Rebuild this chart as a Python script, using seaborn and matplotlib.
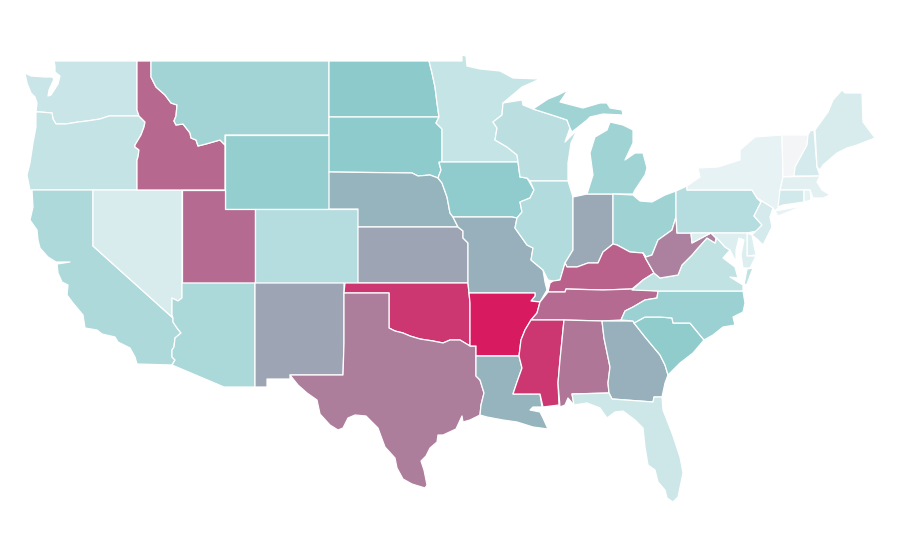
import matplotlib.pyplot as plt
import seaborn as sns
from matplotlib.collections import PolyCollection
from matplotlib.colors import ListedColormap, Normalize

sns.set_theme(style="white")

# state value (0 = palest, 100 = darkest red)
states = ['WA', 'OR', 'CA', 'NV', 'ID', 'MT', 'WY', 'UT', 'CO', 'AZ', 'NM', 'ND', 'SD',
          'NE', 'KS', 'OK', 'TX', 'MN', 'IA', 'MO', 'AR', 'LA', 'WI', 'IL', 'IN', 'MI_L',
          'MI_U', 'OH', 'KY', 'TN', 'MS', 'AL', 'GA', 'FL', 'SC', 'NC', 'VA', 'VA_E', 'WV', 'PA',
          'NY', 'VT', 'NH', 'ME', 'MA', 'CT', 'RI', 'NJ', 'DE', 'MD']
values = [20, 23, 33.5, 13, 78, 39, 46, 77, 30, 34.5, 61, 49.5, 48.5,
          56.5, 61, 92, 72, 22, 48, 57.5, 100, 56.5, 27, 32, 60, 40,
          40, 41, 80, 77, 92, 74, 57.5, 18, 47, 42.5, 24, 24, 71, 30,
          6.5, 0, 15, 13, 8.5, 16, 7, 14.5, 11, 11]
low_colors = ['#f3f5f6', '#e8f3f5']
mid_colors = ['#e8f3f5', '#8ccacb']
high_colors = ['#8ccacb', '#d81b60']

# state outlines, traced in map units (same size as the picture)
outlines = {
    'WA': [(54, 61), (137, 61), (137, 110), (139, 116), (109, 116), (100, 119), (87, 121), (78, 122), (66, 124),
           (56, 124), (53, 119), (52, 113), (40, 112), (36, 112), (37, 103), (35, 97), (31, 93), (27, 83), (25, 73),
           (31, 76), (45, 77), (52, 77), (54, 79), (49, 90), (48, 96), (51, 95), (58, 84), (60, 76), (55, 72),
           (55, 66)],
    'OR': [(36, 112), (40, 112), (52, 113), (53, 119), (56, 124), (66, 124), (78, 122), (87, 121), (100, 119),
           (109, 116), (139, 116), (145, 122), (144, 127), (141, 135), (135, 145), (135, 147), (139, 150), (138, 157),
           (137, 160), (137, 190), (30, 190), (27, 175), (30, 163), (33, 143), (36, 127)],
    'CA': [(32, 190), (93, 190), (93, 246), (173, 318), (173, 322), (177, 328), (181, 333), (175, 338), (174, 347),
           (172, 350), (172, 357), (175, 360), (172, 365), (137, 364), (135, 357), (130, 348), (118, 342), (115, 337),
           (102, 334), (97, 330), (85, 328), (83, 315), (73, 303), (67, 295), (68, 285), (62, 282), (58, 273), (57, 264),
           (70, 262), (56, 262), (48, 257), (40, 248), (38, 240), (37, 230), (30, 220), (33, 207)],
    'NV': [(93, 190), (182, 190), (182, 298), (178, 301), (172, 298), (172, 315), (173, 318), (93, 246)],
    'ID': [(137, 61), (151, 61), (151, 77), (156, 87), (165, 95), (171, 103), (177, 105), (176, 116), (174, 121),
           (176, 125), (183, 124), (190, 133), (191, 138), (196, 140), (198, 146), (206, 144), (220, 140), (225, 145),
           (225, 190), (137, 190), (137, 160), (138, 157), (139, 150), (135, 147), (135, 145), (141, 135), (144, 127),
           (145, 122), (139, 116), (137, 110)],
    'MT': [(151, 61), (329, 61), (329, 135), (225, 135), (225, 145), (220, 140), (206, 144), (198, 146), (196, 140),
           (191, 138), (190, 133), (183, 124), (176, 125), (174, 121), (176, 116), (177, 105), (171, 103), (165, 95),
           (156, 87), (151, 77)],
    'WY': [(225, 135), (329, 135), (329, 209), (225, 209)],
    'UT': [(182, 190), (225, 190), (225, 209), (255, 209), (255, 283), (182, 283)],
    'CO': [(255, 209), (358, 209), (358, 283), (255, 283)],
    'AZ': [(182, 283), (255, 283), (255, 387), (224, 387), (172, 365), (175, 360), (172, 357), (172, 350), (174, 347),
           (175, 338), (181, 333), (177, 328), (173, 322), (173, 318), (172, 315), (172, 298), (178, 301), (182, 298)],
    'NM': [(255, 283), (344, 283), (344, 343), (343, 375), (290, 375), (290, 379), (267, 379), (267, 387), (255, 387)],
    'ND': [(329, 61), (429, 61), (432, 73), (435, 87), (437, 103), (439, 117), (329, 117)],
    'SD': [(329, 117), (439, 117), (436, 123), (442, 129), (442, 162), (439, 163), (441, 170), (438, 178), (430, 175),
           (418, 176), (412, 173), (329, 172)],
    'NE': [(329, 172), (412, 173), (418, 176), (430, 175), (438, 178), (442, 183), (447, 197), (450, 213), (453, 217),
           (458, 227), (358, 227), (358, 209), (329, 209)],
    'KS': [(358, 227), (458, 227), (463, 231), (463, 238), (468, 243), (468, 283), (358, 283)],
    'OK': [(345, 283), (468, 283), (469, 293), (470, 303), (470, 346), (460, 340), (450, 340), (443, 343), (433, 341),
           (420, 339), (410, 336), (403, 333), (395, 331), (389, 328), (389, 293), (344, 293)],
    'TX': [(344, 293), (389, 293), (389, 328), (395, 331), (403, 333), (410, 336), (420, 339), (433, 341), (443, 343),
           (450, 340), (460, 340), (470, 346), (476, 346), (476, 376), (480, 380), (484, 393), (481, 405), (480, 415),
           (470, 420), (463, 422), (462, 416), (456, 429), (443, 435), (438, 435), (437, 442), (430, 448), (426, 456),
           (421, 461), (424, 470), (427, 485), (425, 488), (412, 484), (403, 479), (397, 468), (395, 458), (385, 447),
           (378, 428), (370, 420), (366, 416), (355, 415), (348, 418), (343, 428), (338, 430), (330, 425), (320, 414),
           (317, 400), (307, 393), (298, 385), (290, 375), (343, 375), (344, 343)],
    'MN': [(429, 61), (462, 61), (462, 55), (466, 56), (467, 66), (480, 69), (500, 71), (513, 78), (540, 79), (522, 87),
           (503, 103), (502, 115), (493, 122), (497, 128), (495, 140), (507, 147), (517, 155), (518, 162), (442, 162),
           (442, 129), (436, 123), (439, 117), (437, 103), (435, 87), (432, 73)],
    'IA': [(439, 162), (518, 162), (520, 177), (527, 178), (534, 190), (530, 198), (520, 202), (522, 212), (517, 218),
           (512, 217), (453, 217), (450, 213), (447, 197), (442, 183), (438, 178), (441, 170)],
    'MO': [(453, 217), (512, 217), (517, 218), (515, 228), (527, 245), (533, 248), (531, 260), (543, 270), (545, 282),
           (547, 290), (540, 302), (531, 301), (535, 296), (535, 293), (469, 293), (468, 283), (468, 243), (463, 238),
           (463, 231), (458, 227)],
    'AR': [(469, 293), (535, 293), (535, 296), (531, 301), (540, 302), (537, 313), (531, 320), (525, 330), (521, 340),
           (519, 356), (476, 356), (476, 346), (470, 346), (470, 303)],
    'LA': [(476, 356), (519, 356), (522, 368), (517, 382), (513, 394), (540, 394), (542, 407), (533, 407), (530, 410),
           (540, 412), (543, 418), (548, 429), (533, 427), (517, 422), (503, 420), (487, 417), (480, 415), (481, 405),
           (484, 393), (480, 380), (476, 376)],
    'WI': [(503, 103), (522, 100), (523, 105), (533, 109), (555, 116), (567, 120), (570, 128), (565, 142), (577, 130),
           (571, 143), (568, 163), (568, 181), (530, 181), (527, 178), (520, 177), (518, 162), (517, 155), (507, 147),
           (495, 140), (497, 128), (493, 122), (502, 115)],
    'IL': [(530, 181), (568, 181), (573, 197), (573, 250), (565, 263), (560, 280), (553, 281), (548, 280), (543, 270),
           (531, 260), (533, 248), (527, 245), (515, 228), (517, 218), (522, 212), (520, 202), (530, 198), (534, 190)],
    'IN': [(573, 197), (587, 194), (613, 194), (613, 244), (603, 252), (598, 263), (588, 263), (577, 267), (567, 267),
           (565, 263), (573, 250)],
    'MI_L': [(587, 194), (613, 194), (633, 194), (635, 190), (645, 175), (647, 168), (643, 153), (635, 153), (625, 160),
             (633, 143), (633, 130), (623, 125), (610, 122), (607, 130), (595, 137), (590, 153), (593, 175)],
    'MI_U': [(533, 109), (548, 99), (558, 95), (568, 90), (560, 102), (583, 108), (600, 103), (607, 103), (610, 108),
             (622, 110), (623, 115), (603, 114), (590, 117), (587, 120), (572, 132), (570, 128), (567, 120), (555, 116)],
    'OH': [(613, 194), (633, 195), (640, 201), (652, 202), (665, 195), (676, 191), (676, 217), (672, 230), (658, 240),
           (652, 255), (646, 257), (643, 253), (630, 252), (617, 245), (613, 244)],
    'KY': [(613, 244), (617, 245), (630, 252), (643, 253), (646, 259), (654, 273), (643, 280), (632, 289), (603, 290),
           (566, 289), (565, 292), (548, 292), (550, 283), (553, 281), (560, 280), (565, 263), (567, 267), (577, 267),
           (588, 263), (598, 263), (603, 252)],
    'TN': [(548, 292), (565, 292), (566, 289), (603, 290), (632, 289), (658, 291), (657, 298), (645, 300), (633, 307),
           (625, 311), (621, 320), (602, 321), (564, 320), (531, 320), (537, 313), (540, 302)],
    'MS': [(531, 320), (564, 320), (560, 360), (558, 383), (559, 405), (543, 407), (540, 394), (513, 394), (517, 382),
           (522, 368), (519, 356), (521, 340), (525, 330)],
    'AL': [(564, 320), (602, 321), (604, 338), (610, 367), (608, 383), (609, 393), (572, 394), (574, 405), (568, 398),
           (565, 405), (560, 407), (558, 383), (560, 360)],
    'GA': [(602, 321), (633, 321), (634, 323), (645, 337), (660, 355), (665, 365), (668, 375), (665, 383), (662, 397),
           (654, 397), (653, 402), (612, 399), (609, 393), (608, 383), (610, 367), (604, 338)],
    'FL': [(572, 394), (609, 393), (612, 399), (653, 402), (654, 397), (662, 397), (663, 410), (672, 433), (680, 457),
           (683, 473), (678, 497), (673, 502), (667, 498), (665, 490), (658, 482), (655, 470), (648, 465), (645, 447),
           (643, 428), (635, 420), (623, 411), (615, 412), (607, 418), (600, 408), (587, 403), (574, 405)],
    'SC': [(634, 323), (645, 317), (660, 317), (672, 318), (673, 323), (690, 323), (704, 340), (693, 353), (680, 363),
           (670, 373), (668, 375), (665, 365), (660, 355), (645, 337)],
    'NC': [(658, 291), (743, 291), (745, 303), (743, 312), (733, 317), (735, 325), (723, 327), (713, 335), (704, 340),
           (690, 323), (673, 323), (672, 318), (660, 317), (645, 317), (634, 323), (633, 321), (621, 320), (625, 311),
           (633, 307), (645, 300), (657, 298)],
    'VA': [(632, 290), (643, 280), (654, 273), (660, 278), (678, 275), (682, 265), (692, 255), (698, 248), (707, 238),
           (715, 243), (717, 238), (725, 247), (730, 250), (723, 258), (735, 267), (738, 278), (730, 277), (743, 285),
           (743, 291), (658, 291)],
    'VA_E': [(753, 268), (747, 269), (744, 285), (747, 284)],
    'WV': [(676, 217), (677, 233), (691, 233), (692, 243), (707, 235), (711, 233), (716, 238), (715, 243), (707, 238),
           (698, 248), (692, 255), (682, 265), (678, 275), (660, 278), (654, 273), (646, 259), (643, 253), (646, 257),
           (652, 255), (658, 240), (672, 230)],
    'PA': [(676, 191), (687, 186), (687, 190), (752, 190), (757, 198), (761, 202), (754, 216), (762, 225), (757, 231),
           (747, 233), (677, 233), (676, 217)],
    'NY': [(687, 190), (687, 186), (700, 177), (698, 168), (718, 167), (740, 160), (740, 150), (755, 137), (782, 135),
           (783, 177), (780, 190), (779, 207), (775, 211), (803, 206), (778, 216), (773, 208), (757, 198), (752, 190)],
    'VT': [(782, 135), (808, 135), (807, 145), (795, 167), (794, 176), (783, 177)],
    'NH': [(808, 135), (810, 131), (814, 130), (817, 167), (820, 176), (794, 176), (795, 167), (807, 145)],
    'ME': [(815, 130), (828, 112), (833, 100), (842, 90), (845, 93), (862, 93), (863, 122), (875, 138), (857, 145),
           (847, 148), (837, 153), (823, 165), (820, 170), (817, 167)],
    'MA': [(783, 177), (820, 176), (817, 182), (822, 190), (830, 195), (823, 198), (813, 198), (810, 190), (780, 190)],
    'CT': [(780, 190), (804, 190), (804, 202), (783, 205), (778, 207)],
    'RI': [(804, 190), (810, 190), (811, 200), (804, 202)],
    'NJ': [(757, 198), (773, 208), (770, 217), (772, 227), (763, 245), (758, 240), (752, 235), (762, 225), (754, 216),
           (761, 202)],
    'DE': [(747, 233), (752, 235), (756, 255), (747, 256)],
    'MD': [(691, 233), (747, 233), (747, 256), (756, 256), (750, 268), (743, 268), (741, 255), (744, 240), (739, 238),
           (736, 250), (736, 262), (730, 250), (725, 247), (717, 238), (716, 238), (711, 233), (707, 235), (692, 243)],
}

fig, ax = plt.subplots(figsize=(9, 5.6), dpi=100)
fig.subplots_adjust(left=0, right=1, bottom=0, top=1)

# palest 5% of the scale is its own short ramp, the rest runs pale > teal > red
ramp = (sns.blend_palette(low_colors, 13) + sns.blend_palette(mid_colors, 115)
        + sns.blend_palette(high_colors, 128))
shapes = PolyCollection([outlines[s] for s in states], array=values, cmap=ListedColormap(ramp),
                        norm=Normalize(0, 100), edgecolor='white', linewidth=0.9, joinstyle='round')
ax.add_collection(shapes)

ax.set_xlim(0, 900)
ax.set_ylim(560, 0)
ax.axis('off')

plt.savefig('out.png', dpi=100)
plt.close()
